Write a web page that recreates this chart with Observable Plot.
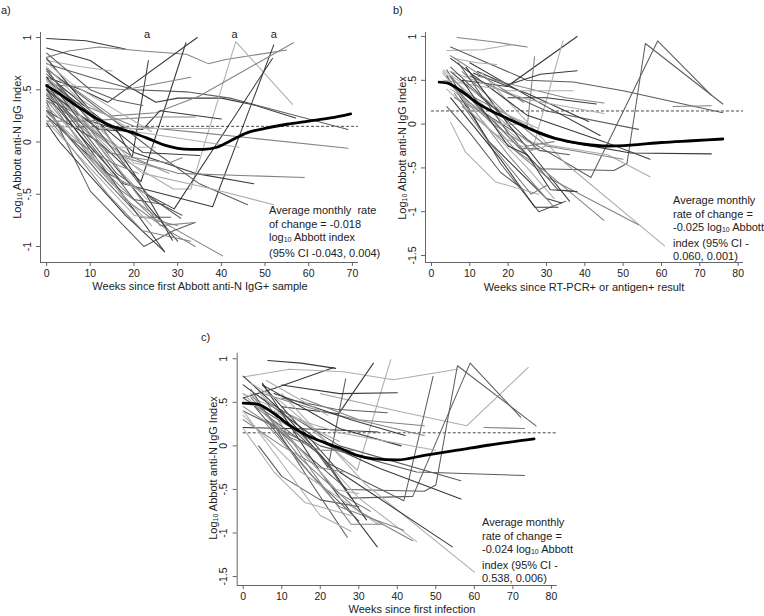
<!DOCTYPE html>
<html><head><meta charset="utf-8">
<script src="https://cdn.jsdelivr.net/npm/d3@7"></script>
<script src="https://cdn.jsdelivr.net/npm/@observablehq/plot@0.6"></script>
<style>
body{margin:0;background:#fff;font-family:"Liberation Sans",Arial,sans-serif;}
#wrap{position:relative;width:764px;height:616px;overflow:hidden;background:#fff;}
.p{position:absolute;}
.t{position:absolute;white-space:nowrap;color:#222;font-size:11px;line-height:13.6px;}
.yt{position:absolute;white-space:nowrap;color:#222;font-size:11px;transform:translate(-50%,-50%) rotate(-90deg);}
.xt{position:absolute;white-space:nowrap;color:#222;font-size:11px;transform:translate(-50%,-50%);}
sub{font-size:7px;vertical-align:-1px;}
</style></head><body><div id="wrap"></div>
<script>
// ---------- data ----------
const cutoff = 0.15;
const yTicksA = [-1, -0.5, 0, 0.5, 1];
const yTicksBC = [-1.5, -1, -0.5, 0, 0.5, 1];
const xTicksA = [0, 10, 20, 30, 40, 50, 60, 70];
const xTicksBC = [0, 10, 20, 30, 40, 50, 60, 70, 80];
const markWeeksA = [23, 43, 52]; // "a" flags
const markLabel = "a";

// each trajectory: [week, value, week, value, ...]
const linesA = [
 [0,0.99, 9,0.97, 18,0.89],
 [0,0.81, 5,0.87, 12,0.91, 22,0.87, 32,0.84, 37,0.75, 41,0.79, 55,0.88],
 [0,0.9, 10,0.78, 18,0.55, 25,0.38, 30,0.42, 40,0.42, 47,0.36, 57,0.23],
 [0,0.75, 10,0.62, 20,0.5, 32,0.48, 42,0.42, 69,0.12],
 [0,0.62, 8,0.5, 14,0.38, 34.5,1.0],
 [0,0.42, 10,0.2, 16,0.12, 19.6,-0.15, 23.3,0.78],
 [0,0.3, 12,0.0, 21.6,-0.38, 31.9,0.95],
 [0,0.55, 15,-0.1, 29,-0.45, 33,-0.45, 43.3,0.96, 56.3,0.36],
 [0,0.45, 8,0.05, 17.6,-0.4, 38,-0.62, 52,0.93],
 [0,0.25, 14,-0.3, 29.2,-0.64, 51.7,0.8],
 [0,0.7, 15,0.25, 25,0.28, 35,0.44, 56.5,0.95],
 [0,0.5, 20,0.15, 35,0.09, 69,-0.06],
 [0,0.6, 14,0.15, 22,0.12, 26,0.3, 40,0.22],
 [0,0.6, 20,-0.1, 34,-0.3, 47.4,-0.4],
 [0,0.45, 18,-0.15, 30,-0.3, 59,-0.34],
 [0,0.7, 25,-0.1, 35,-0.4, 46,-0.6],
 [0,0.5, 22,-0.3, 38,-0.45, 52,-0.6],
 [0,0.3, 15,-0.4, 28,-0.8, 40.3,-1.09],
 [0,0.6, 20,0.1, 44,-0.05],
 [0,0.55, 18,0.5, 33,0.62],
 [0,0.78, 8,0.72, 15,0.68],
 [0,0.2, 8,0.2, 25,0.24, 34,0.24],
 [0,0.15, 15,0.13, 30,0.13, 40,0.13],
 [0,0.5, 12,0.12, 20,0.1],
 [0,0.65, 10,0.3, 22,-0.1, 35,-0.13],
 [0,0.4, 20,-0.15, 28,-0.2, 31,-0.15],
 [0,0.38, 10,-0.47, 22.3,-1.0, 29,-0.85, 34,-0.77],
 [0,0.18, 3,0.0, 18,-0.7, 27,-1.05],
 [0,0.5, 27,-1.05],
 [0,0.62, 15,-0.2, 30,-0.95],
 [0,0.45, 10,-0.15, 25,-0.75, 30,-0.8],
 [0,0.3, 12,-0.3, 21.5,-0.72, 28.4,-0.72],
 [0,0.7, 12,0.0, 26,-0.8, 34,-0.77],
 [0,0.25, 14,-0.5, 22,-0.85, 33,-0.95],
 [0,0.55, 16,-0.3, 30.7,-0.73],
 [0,0.8, 10,0.3, 20,-0.3, 28.8,-0.94],
 [0,0.4, 8,0.0, 18,-0.55, 28,-0.85, 34,-1.0],
 [0,0.65, 14,-0.15, 23,-0.55],
 [0,0.35, 6,0.1, 14,-0.35, 24,-0.8],
 [0,0.72, 10,0.3, 18,-0.2],
 [0,0.58, 8,0.3, 20,-0.2, 26,-0.25],
 [0,0.47, 14,-0.1, 20,-0.15, 28,-0.3],
 [0,0.28, 10,-0.1, 16,-0.35, 23,-0.5],
 [0,0.6, 10,0.15, 16,-0.05, 25,-0.05],
 [0,0.76, 6,0.55, 16,0.3, 24,0.1],
 [0,0.85, 10,0.5, 16,0.4, 22,0.35],
 [0,0.52, 20,-0.55, 27,-0.6],
 [0,0.2, 20,-0.7, 26,-0.75],
 [0,0.68, 12,0.1, 24,-0.55, 31,-0.7],
 [0,0.33, 5,0.05, 15,-0.2, 21,-0.3]
];
const tonesA = [0,2,0,1,0,0,0,3,0,0,2,2,0,0,2,1,3,2,3,2,3,2,3,0,0,2,
                1,0,0,0,2,1,2,2,1,0,2,3,3,3,3,2,3,3,3,1,1,3,1,2];
const smoothWeeksA = [0,3,6,9,12,15,18,21,24,27,30,33,36,39,42,46,50,55,60,65,69.6];
const smoothValuesA = [0.54,0.46,0.37,0.29,0.21,0.15,0.11,0.07,0.02,-0.03,-0.06,-0.07,-0.07,-0.05,0.01,0.09,0.13,0.17,0.2,0.23,0.27];

const linesB = [
 [6.7,0.99, 16,0.94, 25,0.88],
 [4,0.84, 13,0.85, 21.5,0.91],
 [5,0.88, 23,0.54, 24.8,0.5, 37,0.48, 50,0.38, 76,0.13],
 [8,0.5, 19.7,0.43, 38,1.0],
 [5,0.4, 18,0.0, 26.3,-0.3, 34.3,0.95],
 [5,0.45, 20,0.1, 25,-0.02, 26.9,0.77],
 [12,0.6, 20,0.45, 28.4,0.57, 38,0.61],
 [10,0.3, 28.4,-0.51, 47.6,-0.53, 51,-0.45, 55.8,0.92, 76,0.23],
 [8,0.4, 14,0.12, 22,-0.1, 41.6,-0.61, 59,0.95, 73,0.33],
 [13,0.59, 35,-0.45, 60.8,-1.39],
 [8,0.2, 30,-0.6, 54,-1.15],
 [3,0.6, 25,-0.2, 46,-0.35, 57,-0.6],
 [5,0.6, 20,0.05, 35,-0.2, 52,-0.33, 73,-0.34],
 [5,0.75, 25,0.1, 45,-0.2, 57,-0.4],
 [10,0.55, 30,0.15, 54,-0.06],
 [10,0.7, 30,0.2, 44,-0.13],
 [11,0.58, 25,0.35, 41,0.03],
 [20,0.3, 30,0.3, 43,0.23],
 [12,0.55, 35,0.3, 45,0.24],
 [3,0.5, 20,0.38, 37,0.38],
 [5,0.6, 25,0.28, 45,0.12],
 [63,0.2, 73,0.21],
 [8,0.6, 20,0.1, 30,-0.25, 50,-0.4],
 [4,0.62, 18,-0.45, 28,-1.0, 35,-0.88],
 [5,0.3, 18,-0.4, 27,-0.95, 33,-0.95],
 [5,0.02, 8.9,-0.32, 16.7,-0.66, 28,-0.8],
 [4,0.55, 15,-0.2, 30,-0.85, 34,-0.9],
 [6,0.45, 20,-0.35, 32,-0.95],
 [7,0.7, 20,-0.1, 33,-0.75, 37,-0.77],
 [3,0.58, 15,-0.05, 25,-0.5, 32,-0.85],
 [9,0.65, 20,0.0, 30,-0.55, 36,-0.88],
 [5,0.55, 12,0.2, 22,-0.3, 30,-0.55, 45,-1.1],
 [4,0.4, 16,-0.1, 26,-0.3, 30,-0.25],
 [6,0.3, 15,0.1, 23,-0.28, 28,-0.28],
 [3,0.62, 12,0.35, 20,0.1, 28,-0.05],
 [6,0.75, 12,0.7, 17,0.68],
 [5,0.78, 15,0.5, 24,0.25],
 [4,0.5, 10,0.2, 18,0.0, 25,0.0],
 [5,0.45, 16,0.0, 25,-0.25, 32,-0.2],
 [8,0.5, 20,-0.25, 25,-0.35, 31,-0.75, 38,-0.77],
 [4,0.2, 10,-0.1, 18,-0.55, 24,-0.75],
 [6,0.35, 14,-0.15, 26,-0.8, 30,-0.7],
 [5,0.65, 16,0.2, 28,-0.3, 36,-0.35]
];
const tonesB = [2,3,1,0,3,2,0,1,1,3,2,3,0,0,1,0,0,0,2,3,3,2,2,
                1,0,3,0,2,1,3,0,2,3,2,3,3,2,3,2,0,1,2,1];
const smoothWeeksB = [2,4,8,12,16,20,24,28,32,36,40,46,52,60,68,76];
const smoothValuesB = [0.48,0.47,0.37,0.24,0.14,0.06,-0.02,-0.1,-0.16,-0.2,-0.23,-0.25,-0.24,-0.21,-0.19,-0.17];

const linesC = [
 [6.4,0.98, 15,0.95, 24,0.89],
 [0,0.55, 8,0.66, 23.5,0.9],
 [0,0.79, 12,0.88, 26,0.85, 39,0.76, 55.6,0.88],
 [20,0.6, 40,0.4, 58,0.23, 74,0.9],
 [10,0.45, 24.8,0.37, 33.8,0.95],
 [0,0.4, 18,0.0, 22,-0.25, 26.6,0.77],
 [0,0.6, 15,0.3, 29.6,-0.28, 38.3,0.99],
 [8,0.4, 22,-0.2, 41.7,-0.63, 49.3,0.8],
 [6,0.3, 27,-0.5, 47,-0.52, 50,-0.45, 55.6,0.92, 76,0.23],
 [3,0.45, 20,-0.1, 28,-0.6, 44,-0.58, 58.9,0.95, 72,0.33],
 [10,0.6, 32,-0.45, 60,-1.45],
 [5,0.7, 25,-0.3, 54.3,-1.16],
 [0,0.7, 20,0.05, 35,-0.25, 56.5,-0.61],
 [0,0.55, 20,0.0, 45,-0.3, 73,-0.34],
 [3,0.6, 25,0.0, 56.5,-0.4],
 [5,0.6, 20,0.4, 47,0.12],
 [0,0.21, 20,0.19, 35,0.16],
 [5,0.7, 25,0.2, 41,0.0],
 [8,0.6, 28,0.3, 42,0.12],
 [10,0.55, 24,0.42, 37.4,0.38],
 [10,0.7, 25,0.6, 40,0.61],
 [15,0.55, 30,0.3, 47,0.23],
 [62.5,0.21, 73,0.2],
 [0,0.5, 25,0.15, 50,-0.05],
 [4,0.62, 20,-0.1, 30,-0.6, 45,-1.1],
 [2,0.65, 18,-0.45, 27,-1.05],
 [5,0.72, 20,-0.3, 34.8,-1.16],
 [3,0.45, 18,-0.35, 30,-0.86],
 [5,0.3, 25,-0.7, 41.7,-0.97],
 [0,0.35, 15,-0.3, 35,-0.9],
 [0,0.2, 8,-0.3, 16,-0.65, 28,-0.8],
 [4,0.0, 10,-0.35, 20,-0.62, 30,-0.7],
 [2,0.55, 12,0.1, 25,-0.55, 33,-0.75],
 [0,0.8, 10,0.4, 22,-0.2, 32,-0.85],
 [6,0.5, 18,-0.3, 28,-0.9, 36,-0.9],
 [0,0.6, 14,0.0, 24,-0.5, 30,-0.55],
 [0,0.3, 10,0.0, 20,-0.25, 26,-0.3],
 [2,0.72, 10,0.5, 18,0.2, 25,0.05],
 [0,0.45, 12,0.1, 20,-0.05, 29,-0.05],
 [6,0.75, 14,0.55, 22,0.35],
 [0,0.4, 10,-0.2, 20,-0.8, 28,-0.98],
 [2,0.6, 15,-0.15, 30,-0.75, 44,-1.09]
];
const tonesC = [0,0,3,3,0,1,3,1,1,1,3,0,0,1,1,2,0,0,0,1,0,2,2,3,
                3,1,0,1,2,3,3,1,2,0,2,3,2,3,2,3,3,2];
const smoothWeeksC = [0,3.6,8,12.3,16.6,21,25.3,29.6,34,40,47,55.6,64,75.5];
const smoothValuesC = [0.49,0.48,0.37,0.23,0.12,0.04,-0.03,-0.11,-0.15,-0.16,-0.11,-0.05,0.01,0.08];

// ---------- drawing ----------
const palette = ["#383838", "#5c5c5c", "#838383", "#adadad"];
const fmt = d => d === 0 ? "0" : String(d).replace("0.", ".");

function rowsFrom(lines, tones) {
  const rows = [];
  lines.forEach((pts, i) => {
    for (let k = 0; k < pts.length; k += 2) rows.push({id: i, week: pts[k], value: pts[k + 1], tone: tones[i]});
  });
  return rows;
}

function panel(cfg) {
  const rows = rowsFrom(cfg.lines, cfg.tones);
  const smooth = cfg.sw.map((w, i) => ({week: w, value: cfg.sv[i]}));
  const marks = [
    Plot.ruleY([cutoff], {x1: 0, x2: cfg.xd[1], stroke: "#333", strokeWidth: 0.9, strokeDasharray: "3,2"}),
    Plot.line(rows, {x: "week", y: "value", z: "id", stroke: d => palette[d.tone], strokeWidth: 1.05}),
    Plot.line(smooth, {x: "week", y: "value", stroke: "#000", strokeWidth: 2.8, curve: "monotone-x"}),
    Plot.ruleX([cfg.xd[0]], {stroke: "#666"}),
    Plot.ruleY([cfg.yd[0]], {stroke: "#666"}),
    Plot.axisX({ticks: cfg.xt, tickSize: 4, tickPadding: 3, label: null, stroke: "#666", fontSize: 10.5}),
    Plot.axisY({ticks: cfg.yt, tickSize: 4, tickPadding: 6, tickRotate: -90, tickFormat: fmt, label: null, stroke: "#666", fontSize: 10.5})
  ];
  if (cfg.flags) marks.push(Plot.text(cfg.flags, {x: d => d, y: cfg.yd[1], text: () => markLabel, dy: 2, fontSize: 11}));
  return Plot.plot({
    width: cfg.w, height: cfg.h,
    marginLeft: cfg.m[0], marginRight: cfg.m[1], marginTop: cfg.m[2], marginBottom: cfg.m[3],
    x: {domain: cfg.xd}, y: {domain: cfg.yd},
    style: {fontFamily: "'Liberation Sans', Arial, sans-serif", color: "#222", background: "transparent", overflow: "visible"},
    marks
  });
}

const wrap = document.getElementById("wrap");
function place(node, left, top) { node.classList.add("p"); node.style.left = left + "px"; node.style.top = top + "px"; wrap.appendChild(node); }
function html(cls, left, top, content) { const d = document.createElement("div"); d.className = cls; d.style.left = left + "px"; d.style.top = top + "px"; d.innerHTML = content; wrap.appendChild(d); }

place(panel({lines: linesA, tones: tonesA, sw: smoothWeeksA, sv: smoothValuesA,
  xd: [-1.4, 71.4], yd: [-1.153, 1.048], xt: xTicksA, yt: yTicksA, flags: markWeeksA,
  w: 380, h: 300, m: [40, 22, 32, 38]}), 0, 0);
place(panel({lines: linesB, tones: tonesB, sw: smoothWeeksB, sv: smoothValuesB,
  xd: [-1.56, 81.4], yd: [-1.58, 1.046], xt: xTicksBC, yt: yTicksBC,
  w: 384, h: 300, m: [45, 21, 32, 38]}), 380, 0);
place(panel({lines: linesC, tones: tonesC, sw: smoothWeeksC, sv: smoothValuesC,
  xd: [-1.56, 81.5], yd: [-1.603, 1.064], xt: xTicksBC, yt: yTicksBC,
  w: 400, h: 316, m: [46.7, 33.3, 52.7, 31]}), 190, 300);

const yTitle = "Log<sub>10</sub> Abbott anti-N IgG Index";
html("t", 1, 4, "a)");
html("t", 393, 4, "b)");
html("t", 201, 331, "c)");
html("yt", 17, 147, yTitle);
html("yt", 402, 148, yTitle);
html("yt", 213, 468, yTitle);
html("xt", 200, 286, "Weeks since first Abbott anti-N IgG+ sample");
html("xt", 584, 287, "Weeks since RT-PCR+ or antigen+ result");
html("xt", 412, 609, "Weeks since first infection");
html("t", 269, 204, "Average monthly &nbsp;rate<br>of change = -0.018<br>log<sub>10</sub> Abbott index<br>(95% CI -0.043, 0.004)");
html("t", 673, 194, "Average monthly<br>rate of change =<br>-0.025 log<sub>10</sub> Abbott<br>index (95% CI -<br>0.060, 0.001)");
html("t", 482, 516, "Average monthly<br>rate of change =<br>-0.024 log<sub>10</sub> Abbott<br>index (95% CI -<br>0.538, 0.006)");
</script></body></html>
